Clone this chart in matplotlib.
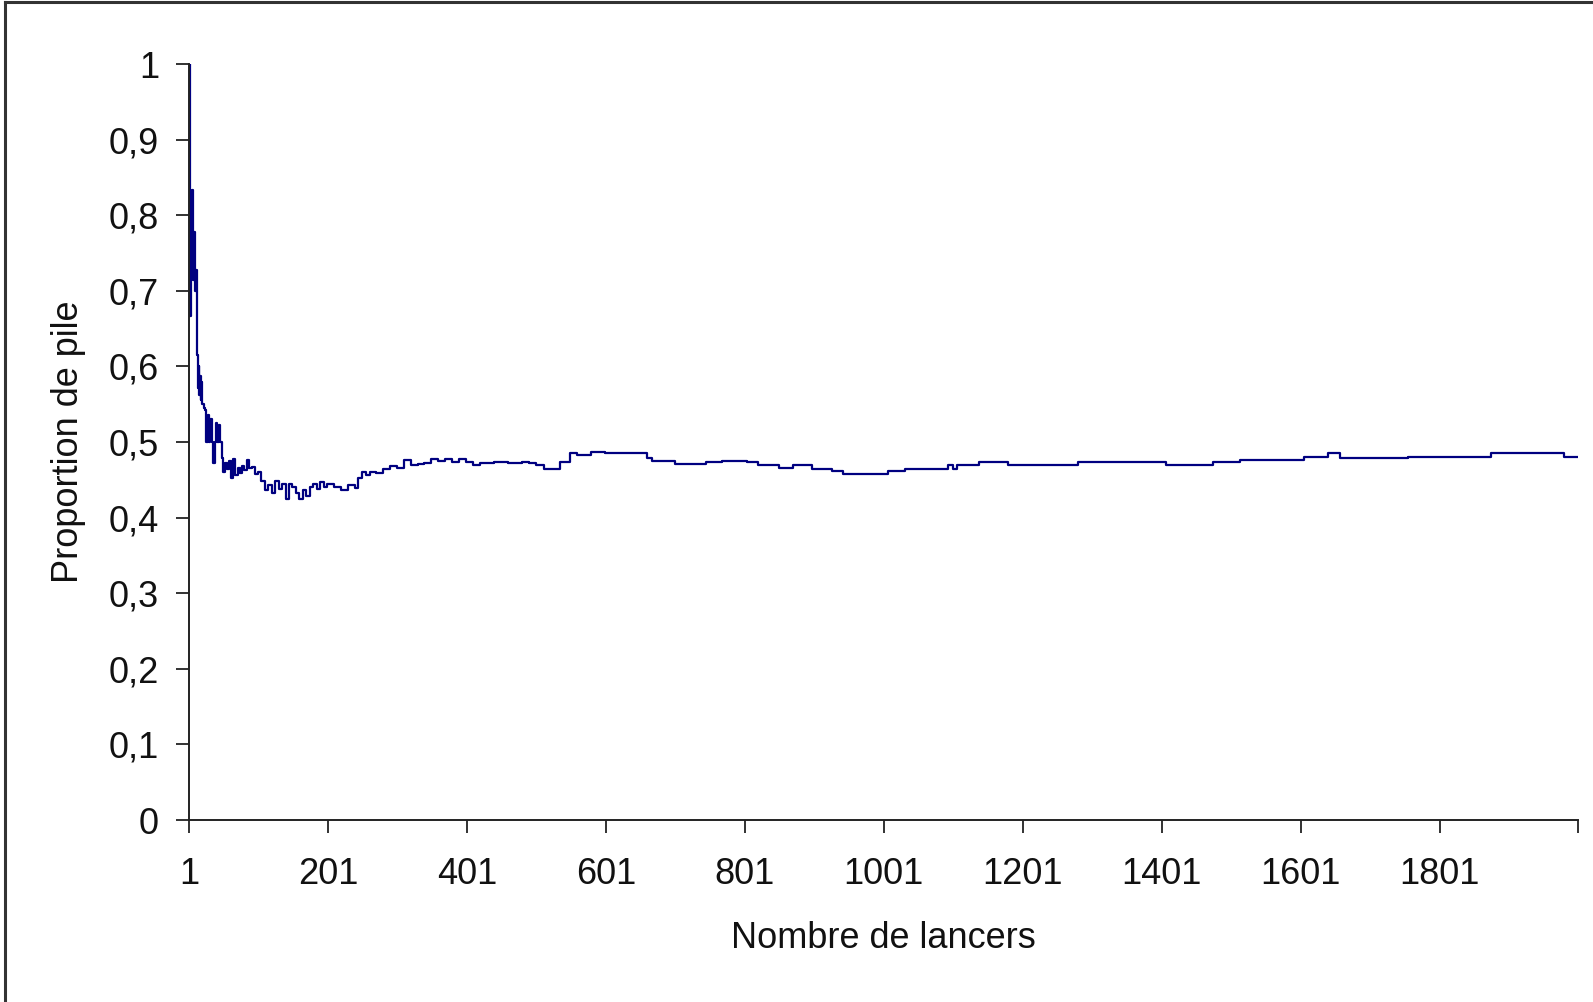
import matplotlib
matplotlib.use("Agg")
import matplotlib.pyplot as plt
from matplotlib.lines import Line2D

# values (cumulative proportion of "pile")
n_lancers = [1, 2, 3, 4, 5, 6, 7, 8, 9, 10, 11, 12, 13, 14, 15, 16, 17, 18, 19, 20,
             22, 24, 26, 28, 30, 32, 34, 36, 38, 40, 42, 44, 46, 48, 50,
             53, 56, 59, 62, 65, 68, 71, 74, 77, 80, 84, 88, 92, 96, 100,
             105, 110, 115, 120, 125, 130, 135, 140, 145, 150, 155, 160, 165, 170,
             175, 180, 185, 190, 195, 200, 210, 220, 230, 240, 245, 250, 256, 262,
             270, 280, 290, 300, 310, 320, 330, 340, 350, 360, 370, 380, 390, 400,
             410, 420, 440, 460, 480, 490, 500, 512, 527, 535, 549, 560, 580, 600,
             620, 640, 660, 668, 700, 745, 768, 804, 820, 850, 870, 897, 926, 942,
             1007, 1031, 1093, 1100, 1107, 1138, 1179, 1280, 1328, 1407, 1474, 1513,
             1606, 1640, 1657, 1755, 1875, 1980, 2000]
proportion = [1.0, 1.0, 0.667, 0.75, 0.8, 0.833, 0.714, 0.75, 0.778, 0.7, 0.727, 0.667,
              0.615, 0.571, 0.6, 0.5625, 0.588, 0.556, 0.579, 0.55,
              0.545, 0.542, 0.5, 0.536, 0.5, 0.531, 0.5, 0.472, 0.5, 0.525, 0.5, 0.523,
              0.5, 0.479, 0.46,
              0.472, 0.464, 0.475, 0.452, 0.477, 0.456, 0.465, 0.459, 0.468, 0.463,
              0.476, 0.466, 0.467, 0.458, 0.46,
              0.448, 0.436, 0.443, 0.433, 0.448, 0.438, 0.444, 0.424, 0.445, 0.44,
              0.432, 0.425, 0.436, 0.429, 0.44, 0.444, 0.438, 0.447, 0.441, 0.445,
              0.44, 0.436, 0.443, 0.439, 0.452, 0.46, 0.457, 0.461,
              0.459, 0.464, 0.468, 0.466, 0.476, 0.469, 0.471, 0.472, 0.478, 0.475,
              0.477, 0.474, 0.478, 0.474,
              0.47, 0.472, 0.473, 0.472, 0.474, 0.472, 0.469, 0.464, 0.464, 0.474,
              0.486, 0.483, 0.487, 0.485,
              0.486, 0.486, 0.479, 0.475, 0.471, 0.474, 0.475, 0.474, 0.47, 0.466,
              0.47, 0.464, 0.462, 0.458,
              0.462, 0.464, 0.47, 0.464, 0.47, 0.474, 0.47, 0.474, 0.473, 0.47,
              0.473, 0.476,
              0.48, 0.485, 0.479, 0.48, 0.486, 0.48, 0.48]

x_ticks = [1, 201, 401, 601, 801, 1001, 1201, 1401, 1601, 1801, 2000]
x_labels = ["1", "201", "401", "601", "801", "1001", "1201", "1401", "1601", "1801", ""]
y_ticks = [0, 0.1, 0.2, 0.3, 0.4, 0.5, 0.6, 0.7, 0.8, 0.9, 1]
y_labels = ["0", "0,1", "0,2", "0,3", "0,4", "0,5", "0,6", "0,7", "0,8", "0,9", "1"]

plt.rcParams["font.family"] = ["Liberation Sans", "DejaVu Sans"]

fig = plt.figure(figsize=(15.93, 10.02), dpi=100)
ax = fig.add_axes([0.1186, 0.1816, 0.8720, 0.7545])

ax.plot(n_lancers, proportion, color="#000080", lw=1.6, drawstyle="steps-post")

ax.set_xlim(1, 2000)
ax.set_ylim(0, 1)
ax.set_xticks(x_ticks)
ax.set_xticklabels(x_labels)
ax.set_yticks(y_ticks)
ax.set_yticklabels(y_labels)

for side in ["top", "right"]:
    ax.spines[side].set_visible(False)
for side in ["left", "bottom"]:
    ax.spines[side].set_linewidth(1.4)
    ax.spines[side].set_color("#222222")

ax.tick_params(axis="both", direction="out", length=9.5, width=1.3, color="#222222",
               labelsize=26, labelcolor="#111111")
ax.tick_params(axis="y", pad=12)
ax.tick_params(axis="x", pad=17)

ax.set_xlabel("Nombre de lancers", fontsize=26, color="#111111", labelpad=21)
ax.set_ylabel("Proportion de pile", fontsize=26, color="#111111", labelpad=16)

# partial frame around the chart (left and top edges visible)
fig.add_artist(Line2D([5 / 1593, 5 / 1593], [0, 1 - 2 / 1002], transform=fig.transFigure,
                      color="#333333", lw=2.2))
fig.add_artist(Line2D([5 / 1593, 1], [1 - 2 / 1002, 1 - 2 / 1002], transform=fig.transFigure,
                      color="#333333", lw=2.2))

fig.savefig("out.png", dpi=100)
plt.close(fig)
